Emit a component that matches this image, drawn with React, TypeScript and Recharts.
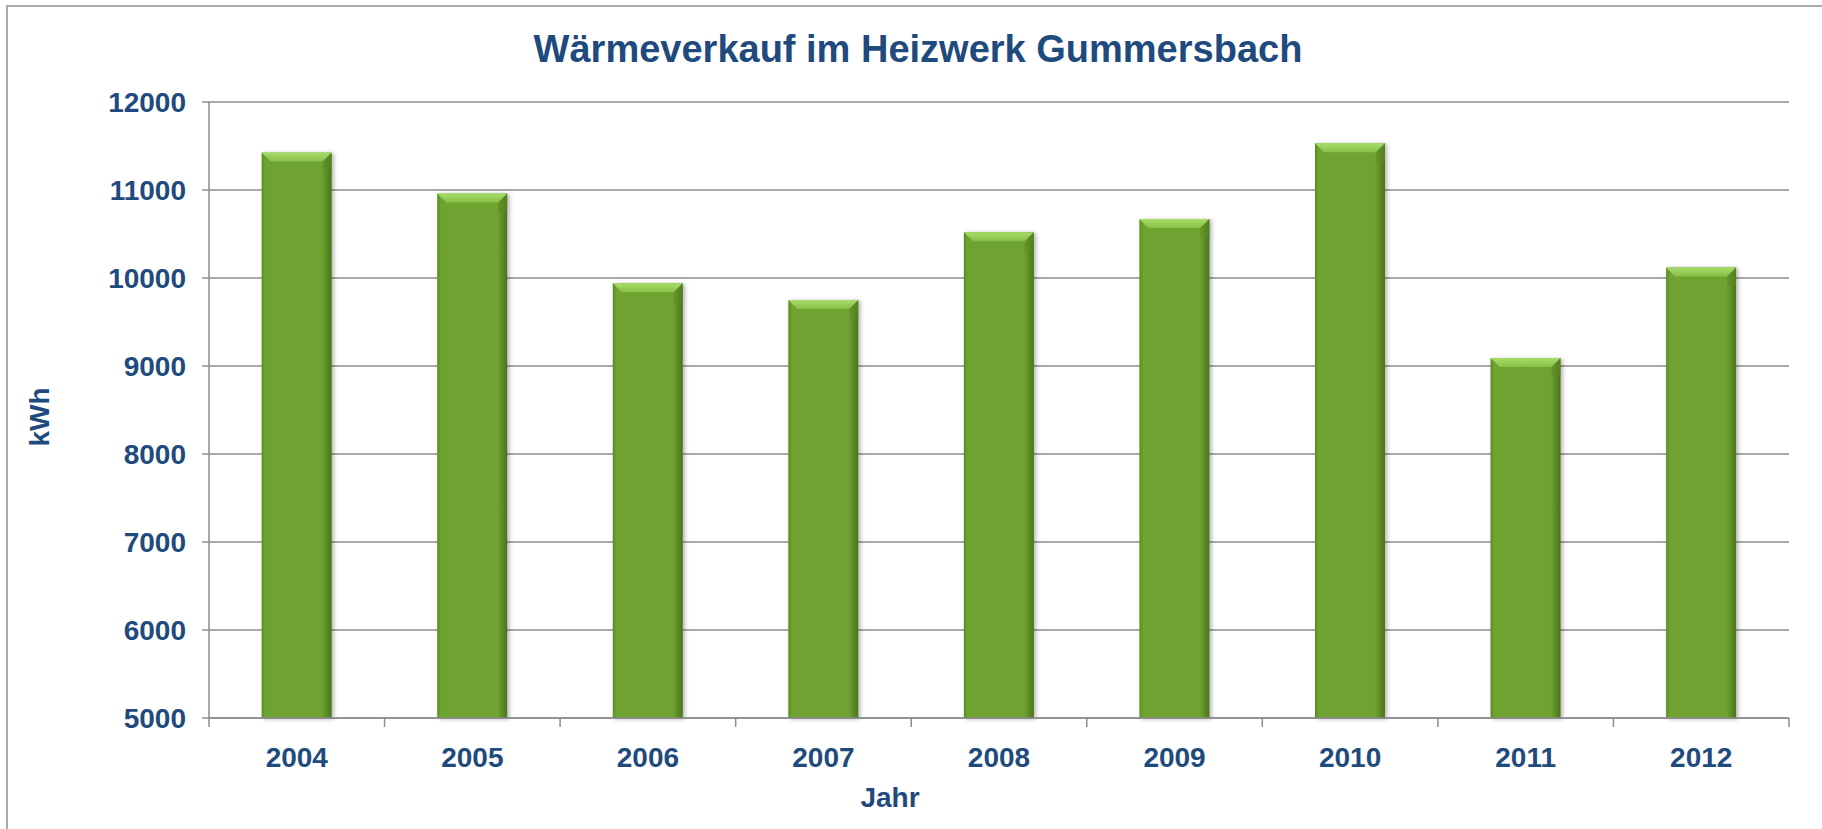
import { BarChart, Bar, XAxis, YAxis, CartesianGrid } from "recharts";

const years = ["2004", "2005", "2006", "2007", "2008", "2009", "2010", "2011", "2012"];
const heatSold = [11425, 10960, 9940, 9750, 10520, 10670, 11530, 9090, 10120];
const yTicks = [5000, 6000, 7000, 8000, 9000, 10000, 11000, 12000];

const data = years.map((year, i) => ({ year, kwh: heatSold[i] }));

const W = 1822;
const H = 829;
const PLOT_LEFT = 209;
const PLOT_RIGHT = 1789;
const PLOT_TOP = 102;
const PLOT_BOTTOM = 718;
const BAND = (PLOT_RIGHT - PLOT_LEFT) / years.length;

const BLUE = "#1F4A7E";
const GRID = "#8c8c8c";
const FONT = "'Liberation Sans', Arial, sans-serif";

// bar body with a bevelled top, like the office "soft edge" effect
const BevelBar = (props: any) => {
  const { x, y, width, height } = props;
  if (!height || height <= 0) return null;
  const b = Math.min(9, height / 2);
  return (
    <g filter="url(#barShadow)">
      <rect x={x} y={y} width={width} height={height} fill="url(#barBody)" />
      <polygon
        points={`${x},${y} ${x + width},${y} ${x + width - b},${y + b} ${x + b},${y + b}`}
        fill="url(#barTop)"
      />
      <polygon
        points={`${x + width},${y} ${x + width - b},${y + b} ${x + width - b},${y + 2 * b} ${x + width},${y + 2 * b}`}
        fill="#5b8a24"
        opacity={0.5}
      />
    </g>
  );
};

const YearTick = (props: any) => {
  const { x, payload, index } = props;
  const left = x - BAND / 2;
  return (
    <g>
      <line x1={left} y1={PLOT_BOTTOM} x2={left} y2={PLOT_BOTTOM + 9} stroke={GRID} strokeWidth={1.5} />
      {index === years.length - 1 && (
        <line x1={left + BAND} y1={PLOT_BOTTOM} x2={left + BAND} y2={PLOT_BOTTOM + 9} stroke={GRID} strokeWidth={1.5} />
      )}
      <text x={x} y={767} textAnchor="middle" fill={BLUE} fontSize={28} fontWeight="bold" fontFamily={FONT}>
        {payload.value}
      </text>
    </g>
  );
};

export default function App() {
  return (
    <div style={{ position: "absolute", left: 0, top: 0, width: W, height: H, overflow: "hidden", background: "#fff" }}>
      <div
        style={{
          position: "absolute",
          left: 6,
          top: 5,
          width: W + 20,
          height: H + 20,
          border: "2px solid #a9a9a9",
          boxSizing: "border-box",
        }}
      />
      <div style={{ position: "absolute", left: 0, top: 0 }}>
        <BarChart
          width={W}
          height={H}
          data={data}
          margin={{ top: PLOT_TOP, right: W - PLOT_RIGHT, bottom: H - PLOT_BOTTOM - 60, left: PLOT_LEFT - 150 }}
          barCategoryGap="30%"
        >
          <defs>
            <linearGradient id="barBody" x1="0" y1="0" x2="1" y2="0">
              <stop offset="0%" stopColor="#5a8a22" />
              <stop offset="5%" stopColor="#6ea331" />
              <stop offset="86%" stopColor="#6ea331" />
              <stop offset="100%" stopColor="#4a7419" />
            </linearGradient>
            <linearGradient id="barTop" x1="0" y1="0" x2="0" y2="1">
              <stop offset="0%" stopColor="#a8dc6a" />
              <stop offset="100%" stopColor="#86bf47" />
            </linearGradient>
            <filter id="barShadow" x="-20%" y="-5%" width="140%" height="110%">
              <feDropShadow dx={2} dy={1} stdDeviation={2} floodColor="#000" floodOpacity={0.3} />
            </filter>
          </defs>
          <CartesianGrid horizontal vertical={false} stroke={GRID} strokeWidth={1.5} />
          <XAxis
            dataKey="year"
            height={60}
            axisLine={{ stroke: GRID, strokeWidth: 1.5 }}
            tickLine={false}
            tick={<YearTick />}
            interval={0}
          />
          <YAxis
            width={150}
            domain={[5000, 12000]}
            ticks={yTicks}
            interval={0}
            axisLine={{ stroke: GRID, strokeWidth: 1.5 }}
            tickLine={{ stroke: GRID, strokeWidth: 1.5 }}
            tickSize={7}
            tickMargin={16}
            tick={{ fill: BLUE, fontSize: 28, fontWeight: "bold", fontFamily: FONT }}
          />
          <Bar dataKey="kwh" shape={<BevelBar />} isAnimationActive={false} />
        </BarChart>
      </div>
      <svg width={W} height={H} style={{ position: "absolute", left: 0, top: 0, pointerEvents: "none" }}>
        <text x={918} y={62} textAnchor="middle" fill={BLUE} fontSize={38} fontWeight="bold" fontFamily={FONT}>
          Wärmeverkauf im Heizwerk Gummersbach
        </text>
        <text
          transform="translate(49,417) rotate(-90)"
          textAnchor="middle"
          fill={BLUE}
          fontSize={28}
          fontWeight="bold"
          fontFamily={FONT}
        >
          kWh
        </text>
        <text x={890} y={807} textAnchor="middle" fill={BLUE} fontSize={28} fontWeight="bold" fontFamily={FONT}>
          Jahr
        </text>
      </svg>
    </div>
  );
}
